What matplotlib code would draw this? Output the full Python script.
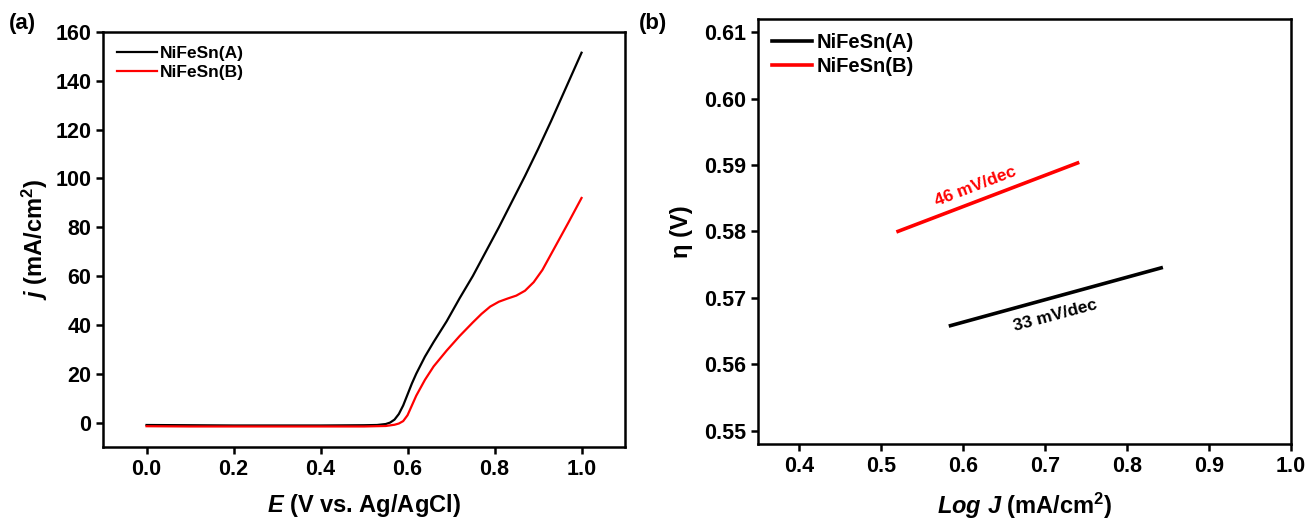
import numpy as np
import matplotlib
matplotlib.use("Agg")
import matplotlib.pyplot as plt

plt.rcParams['font.family'] = ['Liberation Sans', 'DejaVu Sans']
plt.rcParams['font.weight'] = 'bold'
plt.rcParams['mathtext.fontset'] = 'custom'
plt.rcParams['mathtext.rm'] = 'Liberation Sans:bold'
plt.rcParams['mathtext.it'] = 'Liberation Sans:italic:bold'
plt.rcParams['mathtext.bf'] = 'Liberation Sans:bold'

# (a) LSV curves
E_a = [0.0, 0.1, 0.2, 0.3, 0.4, 0.5, 0.53, 0.55, 0.56, 0.57, 0.58, 0.59, 0.60,
       0.61, 0.62, 0.64, 0.66, 0.69, 0.72, 0.75, 0.78, 0.81, 0.84, 0.87, 0.90,
       0.93, 0.96, 1.0]
j_a = [-1.0, -1.1, -1.2, -1.2, -1.2, -1.1, -1.0, -0.6, 0.0, 1.2, 3.5, 7.0, 11.5,
       16, 20, 27, 33, 41.5, 51, 60, 70, 80, 90.5, 101, 112, 123.5, 135.5, 151.5]

E_b = [0.0, 0.1, 0.2, 0.3, 0.4, 0.5, 0.55, 0.57, 0.58, 0.59, 0.60, 0.61, 0.62,
       0.64, 0.66, 0.69, 0.72, 0.75, 0.77, 0.79, 0.81, 0.83, 0.85, 0.87, 0.89,
       0.91, 0.93, 0.95, 0.97, 1.0]
j_b = [-1.5, -1.6, -1.6, -1.6, -1.6, -1.6, -1.4, -0.9, -0.4, 0.6, 3.0, 7.0, 11,
       17.5, 23, 29.5, 35.5, 41, 44.5, 47.5, 49.5, 50.8, 52, 54, 57.5, 62.5, 69, 75.5, 82, 92]

# (b) Tafel fits
logJ_a = [0.585, 0.842]
eta_a = [0.5658, 0.5745]
logJ_b = [0.521, 0.740]
eta_b = [0.5800, 0.5903]

labels = ['NiFeSn(A)', 'NiFeSn(B)']

fig = plt.figure(figsize=(13.09, 5.24), dpi=100)
ax1 = fig.add_axes([0.0787, 0.147, 0.3988, 0.792])
ax2 = fig.add_axes([0.579, 0.153, 0.407, 0.811])

ax1.plot(E_a, j_a, color='black', lw=1.6, label=labels[0])
ax1.plot(E_b, j_b, color='red', lw=1.6, label=labels[1])
ax1.set_xlim(-0.1, 1.1)
ax1.set_ylim(-10, 160)
ax1.set_xticks(np.arange(0, 1.01, 0.2))
ax1.set_yticks(np.arange(0, 161, 20))
ax1.set_xlabel(r'$E$ (V vs. Ag/AgCl)', fontsize=17, fontweight='bold', labelpad=9)
ax1.set_ylabel(r'$j$ (mA/cm$^2$)', fontsize=17, fontweight='bold')
ax1.legend(loc='upper left', frameon=False, fontsize=12.5, handlelength=2.3,
           handletextpad=0.2, labelspacing=0.25, borderaxespad=0.4)

ax2.plot(logJ_a, eta_a, color='black', lw=2.6, label=labels[0])
ax2.plot(logJ_b, eta_b, color='red', lw=2.6, label=labels[1])
ax2.set_xlim(0.35, 1.0)
ax2.set_ylim(0.548, 0.612)
ax2.set_xticks(np.arange(0.4, 1.01, 0.1))
ax2.set_yticks(np.arange(0.55, 0.6101, 0.01))
ax2.set_xlabel(r'$Log\ J$ (mA/cm$^2$)', fontsize=17, fontweight='bold', labelpad=10)
ax2.set_ylabel('η (V)', fontsize=17, fontweight='bold', labelpad=8)
ax2.legend(loc='upper left', frameon=False, fontsize=14.5, handlelength=2.0,
           handletextpad=0.2, labelspacing=0.25, borderaxespad=0.3)
ax2.text(0.616, 0.5867, '46 mV/dec', color='red', fontsize=12.5, fontweight='bold',
         rotation=21, ha='center', va='center')
ax2.text(0.713, 0.5673, '33 mV/dec', color='black', fontsize=12.5, fontweight='bold',
         rotation=15, ha='center', va='center')

for ax in (ax1, ax2):
    for s in ax.spines.values():
        s.set_linewidth(1.8)
    ax.tick_params(direction='out', length=5, width=1.8, labelsize=15.5)
    for t in ax.get_xticklabels() + ax.get_yticklabels():
        t.set_fontweight('bold')

ax1.xaxis.set_major_formatter(matplotlib.ticker.FormatStrFormatter('%.1f'))
ax2.xaxis.set_major_formatter(matplotlib.ticker.FormatStrFormatter('%.1f'))
ax2.yaxis.set_major_formatter(matplotlib.ticker.FormatStrFormatter('%.2f'))

fig.text(0.007, 0.955, '(a)', fontsize=16, fontweight='bold', va='center')
fig.text(0.488, 0.955, '(b)', fontsize=16, fontweight='bold', va='center')

fig.savefig('out.png', dpi=100)
